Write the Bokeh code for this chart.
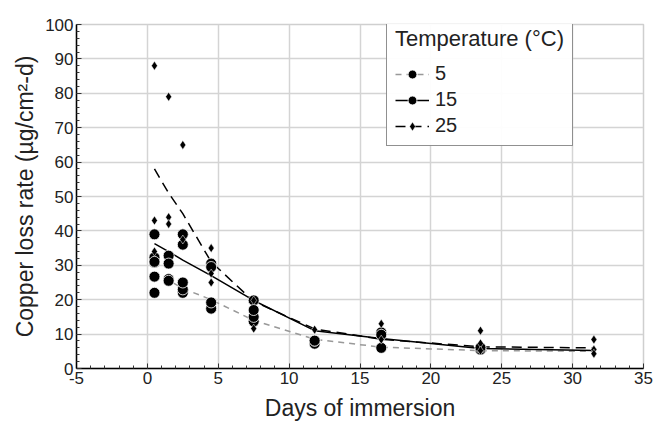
from bokeh.plotting import figure
from bokeh.models import Range1d, FixedTicker, Legend, LegendItem
from bokeh.embed import file_html
from bokeh.resources import INLINE

FONT = "Liberation Sans"

# Sampling days and fitted loss-rate curves per temperature
curve_days = [0.5, 1.5, 2.5, 4.5, 7.5, 11.8, 16.5, 23.5, 31.5]
fit_5 = [28.0, 25.6, 23.3, 20.0, 14.0, 8.5, 6.2, 5.2, 5.0]
fit_15 = [36.3, 34.0, 31.5, 27.0, 19.8, 11.0, 8.7, 5.8, 5.2]
fit_25 = [58.0, 51.0, 45.0, 31.0, 19.5, 11.5, 8.5, 6.3, 6.0]

# Individual replicate measurements
obs_5_days = [0.5, 0.5, 0.5, 1.5, 1.5, 2.5, 2.5, 2.5, 4.5, 4.5, 7.5, 7.5, 11.8, 11.8, 16.5, 23.5]
obs_5_vals = [22.0, 26.7, 30.8, 26.0, 25.5, 22.0, 23.0, 25.0, 17.4, 19.2, 13.7, 15.0, 7.2, 8.1, 6.0, 5.5]

obs_15_days = [0.5, 0.5, 0.5, 1.5, 1.5, 2.5, 2.5, 4.5, 4.5, 7.5, 7.5, 11.8, 16.5, 16.5, 23.5]
obs_15_vals = [39.0, 32.3, 31.0, 32.8, 30.5, 39.0, 36.0, 30.5, 29.5, 19.8, 17.0, 8.1, 10.5, 9.8, 6.1]

obs_25_days = [0.5, 0.5, 0.5, 1.5, 1.5, 1.5, 2.5, 2.5, 4.5, 4.5, 4.5, 7.5, 7.5, 11.8, 16.5, 16.5,
               23.5, 23.5, 23.5, 31.5, 31.5, 31.5]
obs_25_vals = [88.0, 43.0, 34.0, 79.0, 44.0, 42.0, 65.0, 37.5, 35.0, 27.6, 25.0, 19.8, 11.6, 11.3, 13.0, 8.4,
               11.0, 7.3, 5.2, 8.4, 5.5, 4.3]

x_ticks = [-5, 0, 5, 10, 15, 20, 25, 30, 35]
y_ticks = [0, 10, 20, 30, 40, 50, 60, 70, 80, 90, 100]

p = figure(width=653, height=427, output_backend="svg", toolbar_location=None,
           x_range=Range1d(-5, 35), y_range=Range1d(0, 100),
           min_border_left=76, min_border_right=10, min_border_top=24, min_border_bottom=59)
p.background_fill_color = "white"
p.border_fill_color = "white"
p.outline_line_color = "#cfcfcf"
p.outline_line_width = 1.5

p.xaxis.ticker = FixedTicker(ticks=x_ticks, minor_ticks=list(range(-5, 36)))
p.yaxis.ticker = FixedTicker(ticks=y_ticks, minor_ticks=list(range(0, 101, 2)))
p.xaxis.major_label_overrides = {t: str(t) for t in x_ticks}
for ax in (p.xaxis[0], p.yaxis[0]):
    ax.axis_line_color = "black"
    ax.axis_line_width = 1.5
    ax.major_tick_in = 5
    ax.major_tick_out = 0
    ax.minor_tick_in = 3
    ax.minor_tick_out = 0
    ax.major_tick_line_color = "#333333"
    ax.minor_tick_line_color = "#333333"
    ax.major_label_text_font = FONT
    ax.major_label_text_font_size = "17px"
    ax.major_label_text_color = "#222222"
    ax.axis_label_text_font = FONT
    ax.axis_label_text_font_size = "23px"
    ax.axis_label_text_font_style = "normal"
    ax.axis_label_text_color = "#222222"
p.xaxis.axis_label = "Days of immersion"
p.yaxis.axis_label = "Copper loss rate (µg/cm²-d)"
p.xaxis.major_label_standoff = 3
p.yaxis.major_label_standoff = 3
p.xaxis.axis_label_standoff = 8
p.yaxis.axis_label_standoff = 4

p.xgrid.ticker = FixedTicker(ticks=x_ticks)
p.ygrid.ticker = FixedTicker(ticks=y_ticks)
p.grid.grid_line_color = "#d4d4d4"
p.grid.grid_line_width = 1.5

l5 = p.line(curve_days, fit_5, line_color="#999999", line_width=1.5, line_dash="6 5")
l15 = p.line(curve_days, fit_15, line_color="black", line_width=1.5)
l25 = p.line(curve_days, fit_25, line_color="black", line_width=1.5, line_dash="10 6")

s5 = p.scatter(obs_5_days, obs_5_vals, marker="circle", size=11, fill_color="black",
               line_color="white", line_width=0.8)
s15 = p.scatter(obs_15_days, obs_15_vals, marker="circle", size=11, fill_color="black",
                line_color="white", line_width=0.8)
s25 = p.scatter(obs_25_days, obs_25_vals, marker="diamond", size=9, fill_color="black",
                line_color="white", line_width=0.5)

legend = Legend(items=[
    LegendItem(label="5", renderers=[l5, s5]),
    LegendItem(label="15", renderers=[l15, s15]),
    LegendItem(label="25", renderers=[l25, s25]),
], location=(310, 222), title="Temperature (°C)")
legend.title_text_font = FONT
legend.title_text_font_size = "22px"
legend.title_text_font_style = "normal"
legend.title_text_color = "#222222"
legend.label_text_font = FONT
legend.label_text_font_size = "20px"
legend.label_text_color = "#222222"
legend.border_line_color = "#222222"
legend.border_line_width = 1.5
legend.padding = 8
legend.spacing = 3
legend.glyph_width = 34
legend.glyph_height = 22
legend.label_height = 22
legend.label_standoff = 6
legend.title_standoff = 10
legend.margin = 0
p.add_layout(legend, "center")

open("out.html", "w").write(file_html(p, INLINE))
